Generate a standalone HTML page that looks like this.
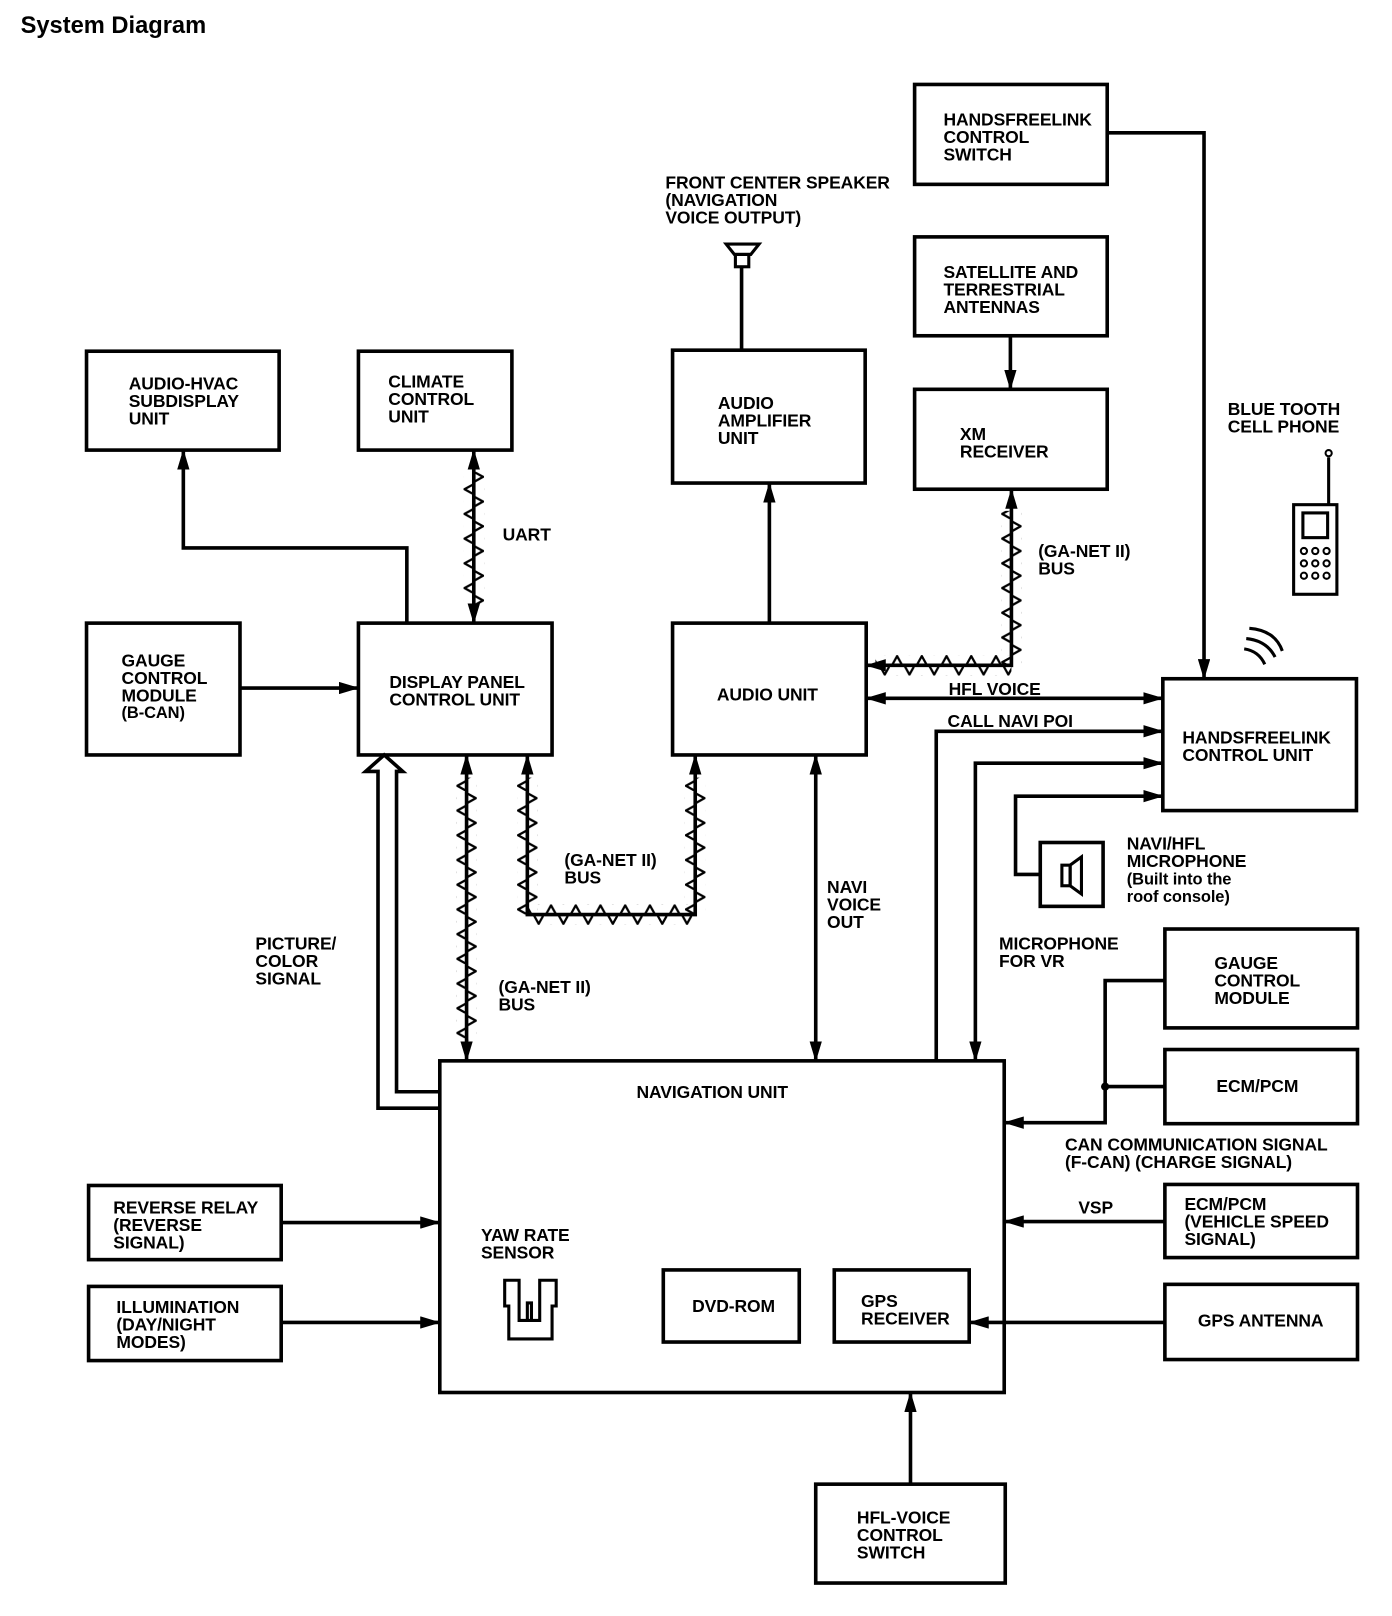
<!DOCTYPE html>
<html><head><meta charset="utf-8"><style>
html,body{margin:0;padding:0;background:#fff;}
svg{display:block}
text{font-family:"Liberation Sans",sans-serif;font-weight:bold;font-size:17px;letter-spacing:-0.1px;fill:#000}
</style></head><body>
<svg width="1392" height="1616" viewBox="0 0 1351.5 1569" xmlns="http://www.w3.org/2000/svg">
<defs>
<marker id="a" viewBox="0 0 20 12" refX="19" refY="6" markerWidth="20" markerHeight="12" markerUnits="userSpaceOnUse" orient="auto-start-reverse"><path d="M0,0 L20,6 L0,12 z" fill="#000"/></marker>
<pattern id="zv1" patternUnits="userSpaceOnUse" x="450" y="0" width="20" height="24"><polygon points="10,2 19,7 10,12" fill="#fff" stroke="#000" stroke-width="2.2"/><polygon points="10,14 1,19 10,24" fill="#fff" stroke="#000" stroke-width="2.2"/></pattern>
<pattern id="zv2" patternUnits="userSpaceOnUse" x="972" y="0" width="20" height="24"><polygon points="10,2 19,7 10,12" fill="#fff" stroke="#000" stroke-width="2.2"/><polygon points="10,14 1,19 10,24" fill="#fff" stroke="#000" stroke-width="2.2"/></pattern>
<pattern id="zv3" patternUnits="userSpaceOnUse" x="443" y="0" width="20" height="24"><polygon points="10,2 19,7 10,12" fill="#fff" stroke="#000" stroke-width="2.2"/><polygon points="10,14 1,19 10,24" fill="#fff" stroke="#000" stroke-width="2.2"/></pattern>
<pattern id="zv4" patternUnits="userSpaceOnUse" x="502" y="0" width="20" height="24"><polygon points="10,2 19,7 10,12" fill="#fff" stroke="#000" stroke-width="2.2"/><polygon points="10,14 1,19 10,24" fill="#fff" stroke="#000" stroke-width="2.2"/></pattern>
<pattern id="zv5" patternUnits="userSpaceOnUse" x="665" y="0" width="20" height="24"><polygon points="10,2 19,7 10,12" fill="#fff" stroke="#000" stroke-width="2.2"/><polygon points="10,14 1,19 10,24" fill="#fff" stroke="#000" stroke-width="2.2"/></pattern>
<pattern id="zh1" patternUnits="userSpaceOnUse" x="0" y="878" width="24" height="20"><polygon points="2,10 7,1 12,10" fill="#fff" stroke="#000" stroke-width="2.2"/><polygon points="14,10 19,19 24,10" fill="#fff" stroke="#000" stroke-width="2.2"/></pattern>
<pattern id="zh2" patternUnits="userSpaceOnUse" x="0" y="636" width="24" height="20"><polygon points="2,10 7,1 12,10" fill="#fff" stroke="#000" stroke-width="2.2"/><polygon points="14,10 19,19 24,10" fill="#fff" stroke="#000" stroke-width="2.2"/></pattern>
</defs>

<text x="20" y="32" style="font-size:23px;letter-spacing:0">System Diagram</text>

<rect x="450" y="458" width="20" height="130" fill="url(#zv1)"/>
<rect x="972" y="496" width="20" height="150" fill="url(#zv2)"/>
<rect x="850" y="636" width="132" height="20" fill="url(#zh2)"/>
<rect x="443" y="755" width="20" height="255" fill="url(#zv3)"/>
<rect x="502" y="755" width="20" height="133" fill="url(#zv4)"/>
<rect x="665" y="755" width="20" height="133" fill="url(#zv5)"/>
<rect x="512" y="878" width="163" height="20" fill="url(#zh1)"/>

<g fill="none" stroke="#000" stroke-width="3.5">
<rect x="888" y="82" width="187" height="97"/>
<rect x="888" y="230" width="187" height="96"/>
<rect x="888" y="378" width="187" height="97"/>
<rect x="653" y="340" width="187" height="129"/>
<rect x="84" y="341" width="187" height="96"/>
<rect x="348" y="341" width="149" height="96"/>
<rect x="84" y="605" width="149" height="128"/>
<rect x="348" y="605" width="188" height="128"/>
<rect x="653" y="605" width="188" height="128"/>
<rect x="1129" y="659" width="188" height="128"/>
<rect x="1010" y="818" width="61" height="62"/>
<rect x="1131" y="902" width="187" height="96"/>
<rect x="1131" y="1019" width="187" height="72"/>
<rect x="1131" y="1150" width="187" height="71"/>
<rect x="1131" y="1247" width="187" height="73"/>
<rect x="427" y="1030" width="548" height="322"/>
<rect x="644" y="1233" width="132" height="70"/>
<rect x="810" y="1233" width="131" height="70"/>
<rect x="86" y="1151" width="187" height="72"/>
<rect x="86" y="1249" width="187" height="72"/>
<rect x="792" y="1441" width="184" height="96"/>

<polyline points="1075,129 1169,129 1169,659" marker-end="url(#a)"/>
<line x1="720" y1="260" x2="720" y2="340"/>
<line x1="981" y1="326" x2="981" y2="378" marker-end="url(#a)"/>
<line x1="747" y1="605" x2="747" y2="469" marker-end="url(#a)"/>
<polyline points="395,605 395,532 178,532 178,437" marker-end="url(#a)"/>
<line x1="460" y1="437" x2="460" y2="605" marker-start="url(#a)" marker-end="url(#a)"/>
<polyline points="982,475 982,646 841,646" marker-start="url(#a)" marker-end="url(#a)"/>
<line x1="841" y1="678" x2="1129" y2="678" marker-start="url(#a)" marker-end="url(#a)"/>
<polyline points="909,1030 909,710 1129,710" marker-end="url(#a)"/>
<polyline points="1129,741 947,741 947,1030" marker-start="url(#a)" marker-end="url(#a)"/>
<polyline points="1010,849 986,849 986,773 1129,773" marker-end="url(#a)"/>
<line x1="233" y1="668" x2="348" y2="668" marker-end="url(#a)"/>
<line x1="453" y1="733" x2="453" y2="1030" marker-start="url(#a)" marker-end="url(#a)"/>
<polyline points="512,733 512,888 675,888 675,733" marker-start="url(#a)" marker-end="url(#a)"/>
<line x1="792" y1="733" x2="792" y2="1030" marker-start="url(#a)" marker-end="url(#a)"/>
<polyline points="1131,952 1073,952 1073,1090 975,1090" marker-end="url(#a)"/>
<line x1="1131" y1="1055" x2="1073" y2="1055"/>
<line x1="1131" y1="1186" x2="975" y2="1186" marker-end="url(#a)"/>
<line x1="1131" y1="1284" x2="941" y2="1284" marker-end="url(#a)"/>
<line x1="273" y1="1187" x2="427" y2="1187" marker-end="url(#a)"/>
<line x1="273" y1="1284" x2="427" y2="1284" marker-end="url(#a)"/>
<line x1="884" y1="1441" x2="884" y2="1352" marker-end="url(#a)"/>
<polyline points="427,1076 367,1076 367,749 355,749 373,733 391,749 385,749 385,1060 427,1060" stroke-width="3.5"/>
</g>
<circle cx="1073" cy="1055" r="4" fill="#000"/>

<g fill="none" stroke="#000" stroke-width="3">
<polygon points="705,237 737,237 729,247 713,247"/>
<rect x="714" y="247" width="13" height="12"/>
<rect x="1031" y="840" width="8" height="20"/>
<polygon points="1039,840 1050,832 1050,868 1039,860"/>
<line x1="1290" y1="444" x2="1290" y2="490"/>
<rect x="1256" y="490" width="42" height="87"/>
<rect x="1265" y="498" width="24" height="24"/>
<path d="M1213,610 Q1238,612 1245,632"/>
<path d="M1210,620 Q1230,622 1238,638"/>
<path d="M1208,630 Q1222,632 1228,645"/>
<path d="M490,1243 L504,1243 L504,1282 L524,1282 L524,1243 L540,1243 L540,1268 L536,1268 L536,1300 L494,1300 L494,1268 L490,1268 Z"/>
<path d="M512,1282 L512,1265 L516,1265 L516,1282"/>
</g>
<circle cx="1290" cy="440" r="3" fill="none" stroke="#000" stroke-width="2"/>
<g fill="none" stroke="#000" stroke-width="2">
<circle cx="1266" cy="535" r="3"/><circle cx="1277" cy="535" r="3"/><circle cx="1288" cy="535" r="3"/>
<circle cx="1266" cy="547" r="3"/><circle cx="1277" cy="547" r="3"/><circle cx="1288" cy="547" r="3"/>
<circle cx="1266" cy="559" r="3"/><circle cx="1277" cy="559" r="3"/><circle cx="1288" cy="559" r="3"/>
</g>

<text x="916" y="122">HANDSFREELINK</text><text x="916" y="139">CONTROL</text><text x="916" y="156">SWITCH</text>
<text x="916" y="270">SATELLITE AND</text><text x="916" y="287">TERRESTRIAL</text><text x="916" y="304">ANTENNAS</text>
<text x="932" y="427">XM</text><text x="932" y="444">RECEIVER</text>
<text x="697" y="397">AUDIO</text><text x="697" y="414">AMPLIFIER</text><text x="697" y="431">UNIT</text>
<text x="125" y="378">AUDIO-HVAC</text><text x="125" y="395">SUBDISPLAY</text><text x="125" y="412">UNIT</text>
<text x="377" y="376">CLIMATE</text><text x="377" y="393">CONTROL</text><text x="377" y="410">UNIT</text>
<text x="118" y="647">GAUGE</text><text x="118" y="664">CONTROL</text><text x="118" y="681">MODULE</text><text x="118" y="697" style="font-size:16px">(B-CAN)</text>
<text x="378" y="668">DISPLAY PANEL</text><text x="378" y="685">CONTROL UNIT</text>
<text x="696" y="680">AUDIO UNIT</text>
<text x="1148" y="722">HANDSFREELINK</text><text x="1148" y="739">CONTROL UNIT</text>
<text x="1179" y="941">GAUGE</text><text x="1179" y="958">CONTROL</text><text x="1179" y="975">MODULE</text>
<text x="1181" y="1060">ECM/PCM</text>
<text x="1150" y="1175">ECM/PCM</text><text x="1150" y="1192">(VEHICLE SPEED</text><text x="1150" y="1209">SIGNAL)</text>
<text x="1163" y="1288">GPS ANTENNA</text>
<text x="618" y="1066">NAVIGATION UNIT</text>
<text x="672" y="1274">DVD-ROM</text>
<text x="836" y="1269">GPS</text><text x="836" y="1286">RECEIVER</text>
<text x="110" y="1178">REVERSE RELAY</text><text x="110" y="1195">(REVERSE</text><text x="110" y="1212">SIGNAL)</text>
<text x="113" y="1275">ILLUMINATION</text><text x="113" y="1292">(DAY/NIGHT</text><text x="113" y="1309">MODES)</text>
<text x="832" y="1479">HFL-VOICE</text><text x="832" y="1496">CONTROL</text><text x="832" y="1513">SWITCH</text>

<text x="646" y="183">FRONT CENTER SPEAKER</text><text x="646" y="200">(NAVIGATION</text><text x="646" y="217">VOICE OUTPUT)</text>
<text x="1192" y="403">BLUE TOOTH</text><text x="1192" y="420">CELL PHONE</text>
<text x="488" y="525">UART</text>
<text x="1008" y="541">(GA-NET II)</text><text x="1008" y="558">BUS</text>
<text x="921" y="675">HFL VOICE</text>
<text x="920" y="706">CALL NAVI POI</text>
<text x="1094" y="825">NAVI/HFL</text><text x="1094" y="842">MICROPHONE</text><text x="1094" y="859" style="font-size:16px">(Built into the</text><text x="1094" y="876" style="font-size:16px">roof console)</text>
<text x="548" y="841">(GA-NET II)</text><text x="548" y="858">BUS</text>
<text x="803" y="867">NAVI</text><text x="803" y="884">VOICE</text><text x="803" y="901">OUT</text>
<text x="970" y="922">MICROPHONE</text><text x="970" y="939">FOR VR</text>
<text x="248" y="922">PICTURE/</text><text x="248" y="939">COLOR</text><text x="248" y="956">SIGNAL</text>
<text x="484" y="964">(GA-NET II)</text><text x="484" y="981">BUS</text>
<text x="1034" y="1117">CAN COMMUNICATION SIGNAL</text><text x="1034" y="1134">(F-CAN) (CHARGE SIGNAL)</text>
<text x="1047" y="1178">VSP</text>
<text x="467" y="1205">YAW RATE</text><text x="467" y="1222">SENSOR</text>
</svg>
</body></html>
